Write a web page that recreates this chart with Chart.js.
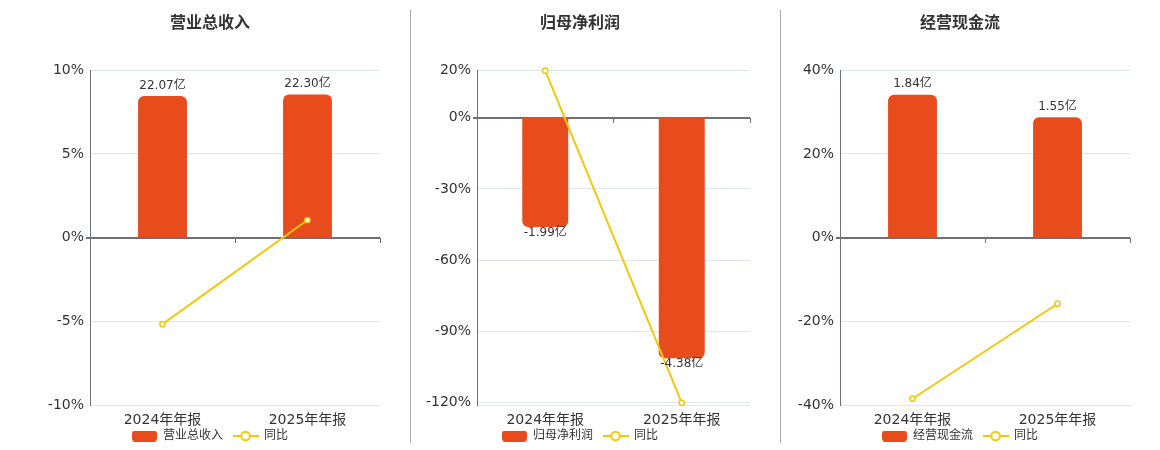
<!DOCTYPE html>
<html><head><meta charset="utf-8">
<script src="https://cdn.jsdelivr.net/npm/chart.js@4.4.1/dist/chart.umd.min.js"></script>
<style>
html,body{margin:0;padding:0;background:#fff;overflow:hidden;width:1160px;height:450px;}
canvas{position:absolute;top:0;}
.divider{position:absolute;top:10px;height:433px;width:1px;background:#aaa;}
</style></head><body>
<canvas id="c1" style="left:0;width:410px;height:450px" width="410" height="450"></canvas>
<canvas id="c2" style="left:410px;width:370px;height:450px" width="370" height="450"></canvas>
<canvas id="c3" style="left:780px;width:380px;height:450px" width="380" height="450"></canvas>
<div class="divider" style="left:410px"></div>
<div class="divider" style="left:780px"></div>
<script>
// ---- data ----
const categories = ['2024年年报', '2025年年报'];
const yoyLabel = '同比';
const unit = '亿';

const revenueTitle = '营业总收入';
const revenueValues = [22.07, 22.30];
const revenueYoY = [-5.17, 1.05];
const revenueTicks = [-10, -5, 0, 5, 10];

const profitTitle = '归母净利润';
const profitValues = [-1.99, -4.38];
const profitYoY = [19.8, -120.1];
const profitTicks = [-120, -90, -60, -30, 0, 20];

const cashTitle = '经营现金流';
const cashValues = [1.84, 1.55];
const cashYoY = [-38.5, -15.8];
const cashTicks = [-40, -20, 0, 20, 40];

// ---- styles ----
const FONT = '"DejaVu Sans", "Noto Sans CJK SC", sans-serif';
const BAR = '#e84c1d';
const LINE = '#f3c70c';
const TEXT = '#333';
const GRID = '#e0e6f1';
const AXIS = '#6e7079';

function makeBarIcon(){
  const c=document.createElement('canvas'); c.width=25; c.height=11;
  const x=c.getContext('2d'); x.fillStyle=BAR;
  const r=3,w=25,h=11;
  x.beginPath(); x.moveTo(r,0); x.lineTo(w-r,0); x.arcTo(w,0,w,r,r); x.lineTo(w,h-r); x.arcTo(w,h,w-r,h,r);
  x.lineTo(r,h); x.arcTo(0,h,0,h-r,r); x.lineTo(0,r); x.arcTo(0,0,r,0,r); x.closePath(); x.fill();
  return c;
}
function makeLineIcon(){
  const c=document.createElement('canvas'); c.width=26; c.height=12;
  const x=c.getContext('2d'); x.strokeStyle=LINE; x.lineWidth=2;
  x.beginPath(); x.moveTo(0,6); x.lineTo(26,6); x.stroke();
  x.beginPath(); x.arc(13,6,4.3,0,Math.PI*2); x.fillStyle='#fff'; x.fill(); x.stroke();
  return c;
}
const barIcon = makeBarIcon();
const lineIcon = makeLineIcon();

const barLabelPlugin = {
  id:'barLabels',
  afterDatasetsDraw(chart){
    const meta = chart.getDatasetMeta(0);
    const ctx = chart.ctx;
    ctx.save();
    ctx.font = '12px ' + FONT;
    ctx.fillStyle = TEXT;
    ctx.textAlign = 'center';
    ctx.textBaseline = 'middle';
    meta.data.forEach((el, i) => {
      const v = chart.data.datasets[0].data[i];
      const txt = v.toFixed(2) + unit;
      if (v >= 0) ctx.fillText(txt, el.x, el.y - 10.5);
      else ctx.fillText(txt, el.x, el.y + 5.5);
    });
    ctx.restore();
  }
};

function makeChart(id, title, barValues, yoyValues, tickValues, yMin, yMax, barMin, barMax, padL, padR, yW){
  new Chart(document.getElementById(id), {
    type:'bar',
    data:{
      labels: categories,
      datasets:[
        {type:'bar', label:title, data:barValues, xAxisID:'x', yAxisID:'y1', backgroundColor:BAR,
         borderRadius:6, borderSkipped:'start', barPercentage:0.337, categoryPercentage:1, order:1},
        {type:'line', label:yoyLabel, data:yoyValues, xAxisID:'x', yAxisID:'y', borderColor:LINE, borderWidth:2,
         pointRadius:2.6, pointBackgroundColor:'#fff', pointBorderColor:LINE, pointBorderWidth:1.5,
         tension:0, order:0, clip:false}
      ]
    },
    options:{
      responsive:false, animation:false,
      layout:{padding:{left:padL, right:padR, top:0, bottom:-2}},
      plugins:{
        title:{display:true, text:title, color:TEXT, font:{family:FONT, size:16, weight:'bold', lineHeight:1.2}, padding:{top:14, bottom:37}},
        legend:{position:'bottom', labels:{usePointStyle:true, pointStyleWidth:25, boxHeight:12, padding:10, color:TEXT,
          font:{family:FONT, size:12},
          generateLabels(chart){
            const items = Chart.defaults.plugins.legend.labels.generateLabels(chart);
            items.forEach(it => { it.pointStyle = it.datasetIndex === 0 ? barIcon : lineIcon; it.rotation = 0; });
            return items;
          },
          sort:(a,b)=>a.datasetIndex-b.datasetIndex}},
        tooltip:{enabled:false}
      },
      scales:{
        x:{type:'category', position:'bottom', offset:true,
           grid:{display:true, drawOnChartArea:false, drawTicks:false},
           border:{display:true, color:GRID, width:1},
           ticks:{padding:7, color:TEXT, font:{family:FONT, size:14}},
           afterFit(s){ s.height = 15; s._computeLabelArea = function(){ return undefined; }; }},
        x2:{type:'category', position:{y:0}, offset:true,
            grid:{display:true, drawOnChartArea:false, drawTicks:true, tickLength:5, color:AXIS, offset:true},
            border:{display:false}, ticks:{display:false}},
        y:{type:'linear', position:'left', min:yMin, max:yMax,
           afterBuildTicks(s){ s.ticks = tickValues.map(v=>({value:v})); },
           afterFit(s){ s.width = yW; },
           grid:{color:c=>(c.tick && c.tick.value===0)?AXIS:GRID,
                 lineWidth:c=>(c.tick && c.tick.value===0)?2:1,
                 drawTicks:true, tickLength:4,
                 tickColor:c=>(c.tick && c.tick.value===0)?AXIS:'rgba(0,0,0,0)'},
           border:{display:true, color:AXIS, width:1},
           ticks:{padding:2, color:TEXT, font:{family:FONT, size:14}, callback:v=>v+'%'}},
        y1:{type:'linear', display:false, min:barMin, max:barMax}
      }
    },
    plugins:[barLabelPlugin]
  });
}

makeChart('c1', revenueTitle, revenueValues, revenueYoY, revenueTicks, -10, 10, -26.1, 26.1, 40, 30, 50);
makeChart('c2', profitTitle, profitValues, profitYoY, profitTicks, -121, 20, -5.231, 0.8646, 0, 30, 67);
makeChart('c3', cashTitle, cashValues, cashYoY, cashTicks, -40, 40, -2.155, 2.155, 10, 30, 50);
</script>
</body></html>
